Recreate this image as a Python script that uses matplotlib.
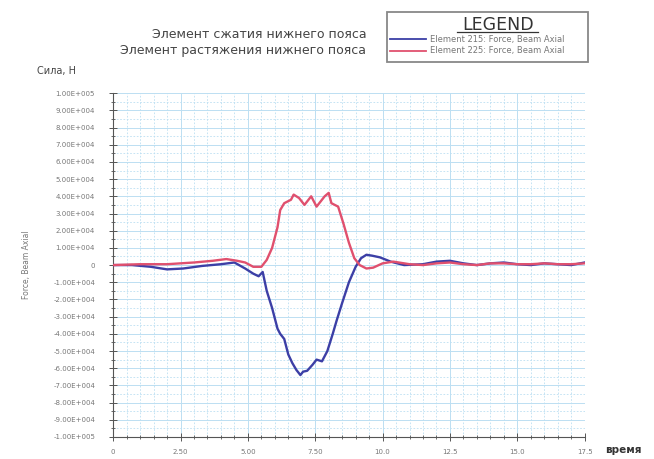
import matplotlib
matplotlib.use("Agg")
import matplotlib.pyplot as plt
from matplotlib.ticker import MultipleLocator, FuncFormatter

# Element 215 - compression (blue)
t_blue = [0, 0.7, 1.4, 2.0, 2.6, 3.3, 4.0, 4.5, 4.9, 5.2, 5.4, 5.55, 5.7, 5.9,
          6.1, 6.2, 6.35, 6.5, 6.65, 6.8, 6.95, 7.05, 7.2, 7.4, 7.55, 7.75,
          7.95, 8.15, 8.3, 8.5, 8.75, 9.0, 9.2, 9.4, 9.6, 9.9, 10.3, 10.8,
          11.5, 12.0, 12.5, 13.0, 13.5, 14.0, 14.5, 15.0, 15.5, 16.0, 16.5,
          17.0, 17.5]
f_blue = [0, 0, -1000, -2500, -2000, -500, 500, 1500, -2000, -5000, -6500,
          -4000, -15000, -25000, -37000, -40000, -43000, -52000, -57000,
          -61000, -64000, -62000, -61500, -58000, -55000, -56000, -50000,
          -40000, -32000, -22000, -10000, -1000, 4000, 6000, 5500, 4500,
          2000, 0, 500, 2000, 2500, 1000, 0, 1000, 1500, 500, 0, 1000, 500,
          0, 1500]

# Element 225 - tension (red)
t_red = [0, 1.0, 2.0, 3.0, 3.7, 4.2, 4.6, 4.9, 5.2, 5.5, 5.7, 5.9, 6.1, 6.2,
         6.35, 6.6, 6.7, 6.9, 7.1, 7.25, 7.35, 7.55, 7.7, 7.85, 8.0, 8.1,
         8.35, 8.55, 8.75, 8.95, 9.15, 9.4, 9.65, 10.0, 10.4, 11.0, 11.5,
         12.0, 12.5, 13.0, 13.5, 14.0, 14.5, 15.0, 15.5, 16.0, 16.5, 17.0,
         17.5]
f_red = [0, 500, 500, 1500, 2500, 3500, 2500, 1500, -1000, -1000, 3000,
         10000, 22000, 32000, 36000, 38000, 41000, 39000, 35000, 38000,
         40000, 34000, 37000, 40000, 42000, 36000, 34000, 24000, 13000,
         4000, 0, -2000, -1500, 1000, 2000, 500, 0, 1000, 1500, 500, 0,
         1000, 1000, 500, 500, 1000, 500, 500, 1000]

x_ticks = [0, 2.5, 5.0, 7.5, 10.0, 12.5, 15.0, 17.5]
x_labels = ["0", "2.50", "5.00", "7.50", "10.0", "12.5", "15.0", "17.5"]

title_lines = ["Элемент сжатия нижнего пояса", "Элемент растяжения нижнего пояса"]
legend_names = ["Element 215: Force, Beam Axial", "Element 225: Force, Beam Axial"]


def yfmt(v, pos):
    if abs(v) < 1:
        return "0"
    s = "%.2E" % v
    m, e = s.split("E")
    return m + "E" + e[0] + e[1:].zfill(3)


fig = plt.figure(figsize=(6.54, 4.59), dpi=100)
ax = fig.add_axes([0.173, 0.048, 0.721, 0.749])

ax.plot(t_blue, f_blue, color="#3c3fa6", lw=1.7, zorder=3)
ax.plot(t_red, f_red, color="#e0506e", lw=1.7, zorder=3)

ax.set_xlim(0, 17.5)
ax.set_ylim(-100000, 100000)
ax.set_xticks(x_ticks)
ax.set_xticklabels(x_labels)
ax.xaxis.set_minor_locator(MultipleLocator(0.5))
ax.yaxis.set_major_locator(MultipleLocator(10000))
ax.yaxis.set_minor_locator(MultipleLocator(5000))
ax.yaxis.set_major_formatter(FuncFormatter(yfmt))

ax.grid(True, which="major", color="#bcdff2", lw=0.7, ls="-")
ax.grid(True, which="minor", color="#bcdff2", lw=0.6, ls=(0, (2, 2)))
ax.set_axisbelow(True)

for s in ["top", "right"]:
    ax.spines[s].set_visible(False)
ax.spines["left"].set_color("#555555")
ax.spines["bottom"].set_color("#555555")
ax.tick_params(which="major", length=6, width=0.7, color="#555555",
               labelsize=5, labelcolor="#777777", direction="inout")
ax.tick_params(which="minor", length=3.5, width=0.6, color="#555555", direction="inout")
ax.tick_params(axis="x", pad=6)
ax.tick_params(axis="y", pad=10)

ax.set_ylabel("Force, Beam Axial", fontsize=5.5, color="#777777", labelpad=16)

fig.text(0.057, 0.838, "Сила, Н", fontsize=7, color="#444444")
fig.text(0.925, 0.012, "время", fontsize=7.5, color="#333333", weight="bold")
fig.text(0.56, 0.924, title_lines[0], fontsize=9, color="#444444", ha="right", va="center")
fig.text(0.56, 0.889, title_lines[1], fontsize=9, color="#444444", ha="right", va="center")

# legend box
lx0, ly0, lw_, lh_ = 0.592, 0.865, 0.307, 0.109
fig.patches.append(plt.Rectangle((lx0, ly0), lw_, lh_, transform=fig.transFigure,
                                 fill=False, ec="#888888", lw=1.3))
fig.text(lx0 + lw_ * 0.55, ly0 + lh_ - 0.008, "LEGEND", fontsize=12.5, color="#333333",
         ha="center", va="top")
fig.lines.append(plt.Line2D([lx0 + lw_ * 0.35, lx0 + lw_ * 0.75], [ly0 + lh_ - 0.043] * 2,
                            transform=fig.transFigure, color="#333333", lw=0.9))
colors = ["#3c3fa6", "#e0506e"]
for i, name in enumerate(legend_names):
    yy = ly0 + 0.05 - i * 0.026
    fig.lines.append(plt.Line2D([lx0 + 0.005, lx0 + 0.06], [yy, yy],
                                transform=fig.transFigure, color=colors[i], lw=1.3))
    fig.text(lx0 + 0.066, yy, name, fontsize=6, color="#777777", va="center")

fig.savefig("out.png", dpi=100)
